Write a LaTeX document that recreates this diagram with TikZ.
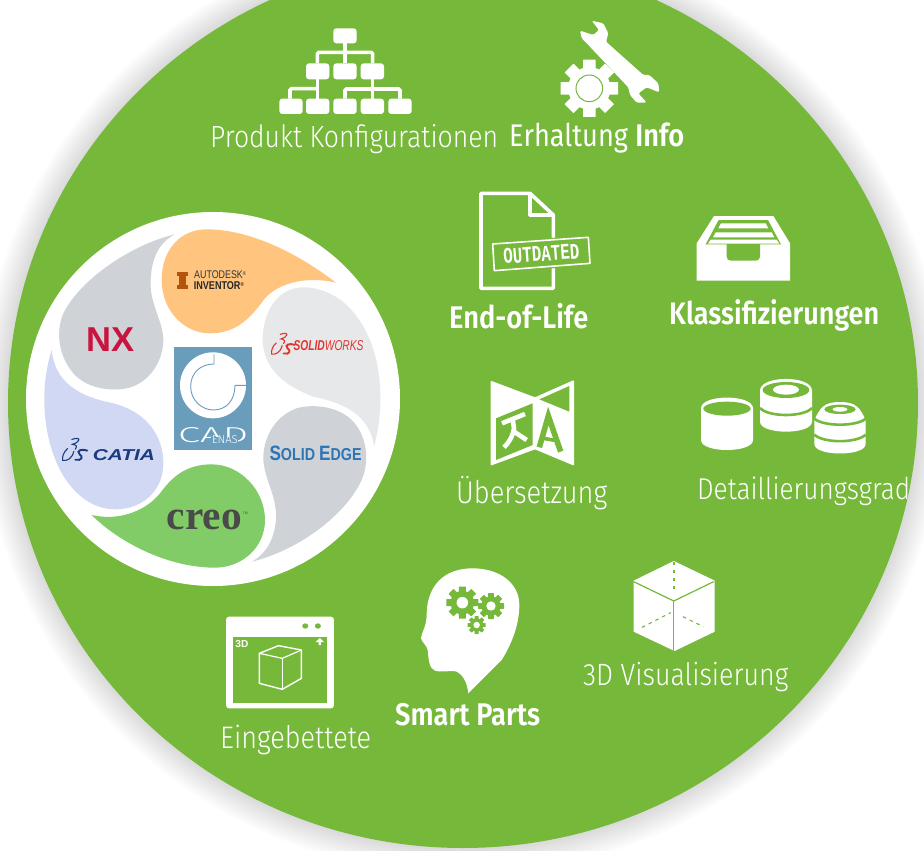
\documentclass[tikz,border=0pt]{standalone}
\usepackage{graphicx}
\usepackage{fontspec}
\setmainfont{Liberation Sans}
\newfontfamily\lightf{Fira Sans Light}
\newfontfamily\regf{Fira Sans}
\newfontfamily\boldf{Fira Sans SemiBold}
\newfontfamily\serf{Liberation Serif}
\newfontfamily\monof{Liberation Mono}
\definecolor{leaf}{HTML}{76B83A}
\definecolor{cadblue}{HTML}{6A9DBC}
\definecolor{petorange}{HTML}{FFC57F}
\definecolor{petlight}{HTML}{E7E8E9}
\definecolor{petgrey}{HTML}{CFD2D6}
\definecolor{petgreen}{HTML}{82CC68}
\definecolor{petlav}{HTML}{D0D8F3}
\definecolor{nxred}{HTML}{C8143F}
\definecolor{swred}{HTML}{E2332E}
\definecolor{catblue}{HTML}{1B3A82}
\definecolor{sedge}{HTML}{2E75B6}
\definecolor{creogrey}{HTML}{4A4A4A}
\definecolor{ibeam}{HTML}{B5540F}
\tikzset{
  zoomat/.style 2 args={shift={(#1,#2)},x=.33333pt,y=-.33333pt},
  zoomfour/.style 2 args={shift={(#1,#2)},x=.3827pt,y=-.33333pt},
  txt/.style={inner sep=0pt,anchor=base west},
  iconline/.style={draw=white,line join=round},
  greenline/.style={draw=leaf,line join=round},
}
\newcommand\lbl[6]{\node[txt,text=white] (#1) at (#2,#3) {\scalebox{1}[1.15]{\resizebox{#4pt}{!}{#5{}#6}}};}
\newcommand\gearicon[5]{% x y r body hole
  \fill[#4] (#1,#2) circle ({0.74*#3});
  \foreach \a in {0,45,...,315}{
    \fill[#4,shift={(#1,#2)},rotate=\a,rounded corners=.4pt] ({0.6*#3},{-0.22*#3}) rectangle ({#3},{0.22*#3});
  }
  \fill[#5] (#1,#2) circle ({0.36*#3});
}
\newcommand\dslogo[4]{% x y scale colour
  \begin{scope}[shift={(#1,#2)},x=#3pt,y=-#3pt,draw=#4,line width=1.1pt,line cap=round]
    \draw (28,4) .. controls (40,0) and (50,0) .. (48,6) .. controls (46,12) and (38,16) .. (30,18) .. controls (42,20) and (44,24) .. (38,32);
    \draw (16,30) .. controls (4,40) and (0,55) .. (2,64) .. controls (14,66) and (28,60) .. (34,38);
    \draw[line width=1.9pt] (72,36) .. controls (56,30) and (40,36) .. (50,46) .. controls (62,54) and (56,66) .. (38,62);
  \end{scope}
}
\begin{document}
\begin{tikzpicture}[x=1pt,y=-1pt]
\useasboundingbox (0,0) rectangle (924,851);
\fill[white] (0,0) rectangle (924,851);
% soft shadow
\begin{scope}
\clip (0,0) rectangle (924,851);
\foreach \i in {1,...,12}{
  \fill[black,opacity=.011] (463,403) ellipse [x radius={455+2.2*\i},y radius={445+2.2*\i}];
}
% big disc
\fill[leaf] (463,403) ellipse [x radius=455,y radius=445];
\end{scope}
% white disc
\fill[white] (213,399) circle (187);
% petals
\begin{scope}[zoomat={20}{200}]
  \fill[petorange] (948,248) .. controls (820,150) and (680,88) .. (560,88) .. controls (480,88) and (425,150) .. (425,240) .. controls (425,330) and (490,400) .. (570,400) .. controls (660,400) and (700,340) .. (735,295) .. controls (770,255) and (850,225) .. (948,248) -- cycle;
  \fill[petlight] (1062,740) .. controls (1100,600) and (1085,420) .. (985,320) .. controls (950,285) and (900,262) .. (850,262) .. controls (770,262) and (728,340) .. (728,420) .. controls (730,510) and (800,560) .. (880,590) .. controls (980,610) and (1050,650) .. (1062,740) -- cycle;
  \fill[petgrey] (695,1085) .. controls (840,1050) and (980,940) .. (1025,840) .. controls (1050,780) and (1040,710) .. (1000,665) .. controls (960,620) and (880,610) .. (830,625) .. controls (760,650) and (728,720) .. (730,780) .. controls (735,840) and (765,880) .. (768,940) .. controls (770,1000) and (745,1060) .. (695,1085) -- cycle;
  \fill[petgreen] (215,945) .. controls (300,1030) and (450,1105) .. (590,1103) .. controls (670,1100) and (735,1040) .. (735,960) .. controls (735,870) and (660,793) .. (575,793) .. controls (490,793) and (450,840) .. (420,880) .. controls (380,930) and (300,965) .. (215,945) -- cycle;
  \fill[petlav] (95,450) .. controls (60,560) and (65,700) .. (120,810) .. controls (160,885) and (220,928) .. (285,928) .. controls (370,928) and (430,870) .. (430,790) .. controls (430,690) and (360,630) .. (280,610) .. controls (180,590) and (105,550) .. (95,450) -- cycle;
  \fill[petgrey] (465,103) .. controls (330,135) and (180,240) .. (130,340) .. controls (105,400) and (118,470) .. (160,520) .. controls (200,565) and (270,575) .. (320,565) .. controls (390,550) and (430,480) .. (430,420) .. controls (430,370) and (395,320) .. (392,260) .. controls (390,190) and (410,130) .. (465,103) -- cycle;
  % central logo
  \fill[cadblue] (461,440) rectangle (697,750);
  \fill[white] (579,556) circle (99);
  \draw[cadblue,line width=.9pt] (582,463) -- (582,492) .. controls (540,492) and (512,520) .. (512,560) .. controls (512,600) and (545,630) .. (580,630) .. controls (620,630) and (645,600) .. (645,556) -- (678,556);
  \node[txt,text=white] (cadword) at (474,727) {\resizebox{70pt}{15pt}{\lightf CAD}};
  \fill[cadblue] (572,712) rectangle (655,733);
  \node[txt,text=white] (enas) at (575,731) {\resizebox{26pt}{!}{\lightf ENAS}};
  % inventor
  \fill[ibeam] (470,215) rectangle (505,227);
  \fill[ibeam] (470,254) rectangle (505,266);
  \fill[ibeam] (478,227) rectangle (497,254);
  \node[txt,text=black!80] (autodesk) at (522,236) {\scalebox{1}[1.25]{\resizebox{52pt}{!}{AUTODESK\raisebox{.5ex}{\tiny\textregistered}}}};
  \node[txt,text=black!85] (inventor) at (521,267) {\scalebox{1}[1.25]{\resizebox{50pt}{!}{\bfseries INVENTOR\raisebox{.5ex}{\tiny\textregistered}}}};
  % NX
  \node[txt,text=nxred] (nx) at (198,453) {\resizebox{48pt}{!}{\bfseries NX}};
  % SolidWorks
  \node[txt,text=swred] (sw) at (820,451) {\resizebox{70pt}{10pt}{\bfseries\itshape SOLID\mdseries WORKS}};
  % Solid Edge
  \node[txt,text=sedge] (se) at (748,781) {\resizebox{92pt}{14.5pt}{\bfseries\fontsize{12}{12}\selectfont S\fontsize{10}{12}\selectfont OLID \fontsize{12}{12}\selectfont E\fontsize{10}{12}\selectfont DGE}};
  % Creo
  \node[txt,text=creogrey] (creo) at (440,988) {\resizebox{75pt}{!}{\serf\bfseries creo}};
  \node[txt,text=creogrey] (creotm) at (668,944) {\resizebox{5pt}{!}{\tiny TM}};
  % CATIA
  \node[txt,text=catblue] (catia) at (218,781) {\resizebox{62pt}{11pt}{\bfseries\itshape CATIA}};
\end{scope}
\dslogo{271}{333}{.33}{swred}
\dslogo{62}{438}{.35}{catblue}
% org chart
\begin{scope}[zoomat={200}{0}]
  \foreach \xa/\ya/\xb/\yb in {400/85/470/130,318/190/388/238,400/190/470/238,482/190/552/238,238/296/308/342,318/296/388/342,400/296/470/342,482/296/552/342,565/296/635/342}{
    \fill[white,rounded corners=3pt] (\xa,\ya) rectangle (\xb,\yb);
  }
  \draw[white,line width=3.6pt,rounded corners=1.5pt] (352,190) -- (352,157) -- (518,157) -- (518,190);
  \draw[white,line width=3.6pt] (435,130) -- (435,190);
  \draw[white,line width=3.6pt,rounded corners=1.5pt] (270,296) -- (270,266) -- (352,266);
  \draw[white,line width=3.6pt] (352,238) -- (352,296);
  \draw[white,line width=3.6pt,rounded corners=1.5pt] (435,296) -- (435,267) -- (600,267) -- (600,296);
  \draw[white,line width=3.6pt] (518,238) -- (518,296);
  % wrench
  \fill[white,rounded corners=1.5pt] (1175,62) -- (1210,70) -- (1225,100) -- (1218,125) -- (1330,225) -- (1348,225) -- (1375,250) -- (1378,277) -- (1340,262) -- (1315,280) -- (1340,308) -- (1310,308) -- (1290,285) -- (1285,262) -- (1165,135) -- (1145,115) -- (1140,92) -- (1180,105) -- (1197,90) -- cycle;
  \gearicon{1168}{265}{86}{white}{white}
  \draw[leaf,line width=1pt] (1168,265) circle (40);
\end{scope}
% doc + stamp, tray
\begin{scope}[zoomat={440}{180}]
  \draw[iconline,line width=3.6pt] (123,40) -- (270,40) -- (340,105) -- (340,325) -- (123,325) -- cycle;
  \draw[iconline,line width=3.2pt] (270,40) -- (270,105) -- (340,105);
  \fill[leaf] (150,186) -- (452,166) -- (458,256) -- (155,278) -- cycle;
  \draw[iconline,line width=1.6pt] (158,192) -- (445,172) -- (450,250) -- (163,272) -- cycle;
  \node[inner sep=0pt,text=white,rotate=4] (stamp) at (304,221) {\resizebox{76pt}{15pt}{\monof\bfseries OUTDATED}};
  % tray
  \fill[white] (770,190) -- (822,108) -- (1000,108) -- (1050,190) -- (1050,302) -- (770,302) -- cycle;
  \fill[leaf] (797,193) -- (836,120) -- (984,120) -- (1023,193) -- cycle;
  \fill[white] (843,130) -- (977,130) -- (985,145) -- (835,145) -- cycle;
  \fill[white] (827,157) -- (995,157) -- (1003,172) -- (819,172) -- cycle;
  \fill[leaf,rounded corners=4pt] (860,175) -- (860,242) -- (960,242) -- (960,175) -- cycle;
  \fill[white] (812,179) -- (1010,179) -- (1018,191) -- (804,191) -- cycle;
\end{scope}
% translate
\begin{scope}[zoomat={480}{370}]
  \fill[white,rounded corners=1pt] (32,32) -- (165,82) -- (282,30) -- (282,287) -- (165,238) -- (32,287) -- cycle;
  \fill[leaf] (48,145) -- (158,100) -- (158,225) -- (48,270) -- cycle;
  \fill[leaf] (268,48) -- (178,88) -- (268,125) -- cycle;
  \draw[white,line width=4.6pt] (66,160) -- (135,132);
  \draw[white,line width=4.6pt] (98,148) -- (102,175) .. controls (98,200) and (85,220) .. (72,232);
  \draw[white,line width=4.6pt] (102,185) -- (140,210);
  \draw[leaf,line width=5.6pt,line join=miter] (178,232) -- (205,138) -- (242,245);
  \draw[leaf,line width=3.6pt] (190,205) -- (230,212);
\end{scope}
% discs
\begin{scope}[zoomat={695}{370}]
  \fill[white] (18,115) -- (18,210) .. controls (18,250) and (174,250) .. (174,210) -- (174,115) .. controls (174,72) and (18,72) .. (18,115) -- cycle;
  \fill[leaf] (96,116) ellipse [x radius=71,y radius=21];
  % second
  \fill[white] (195,62) -- (195,155) .. controls (195,195) and (351,195) .. (351,155) -- (351,62) .. controls (351,15) and (195,15) .. (195,62) -- cycle;
  \fill[leaf] (273,60) ellipse [x radius=70,y radius=24];
  \fill[white] (273,59) ellipse [x radius=39,y radius=15];
  \draw[leaf,line width=2.6pt] (195,114) .. controls (220,142) and (326,142) .. (351,114);
  % third
  \fill[white] (358,150) .. controls (375,115) and (385,96) .. (435,96) .. controls (485,96) and (495,115) .. (512,150) -- (512,222) .. controls (512,260) and (358,260) .. (358,222) -- cycle;
  \fill[leaf] (435,118) ellipse [x radius=47,y radius=14];
  \fill[white] (435,118) ellipse [x radius=22,y radius=7];
  \draw[leaf,line width=2.6pt] (358,146) .. controls (385,170) and (485,170) .. (512,146);
  \draw[leaf,line width=2.6pt] (358,194) .. controls (385,220) and (485,220) .. (512,194);
\end{scope}
% head
\begin{scope}[zoomat={410}{560}]
  \fill[white] (175,400) -- (275,300) .. controls (300,260) and (328,200) .. (328,135) .. controls (328,70) and (270,26) .. (190,25) .. controls (100,24) and (50,80) .. (50,165) .. controls (50,200) and (33,220) .. (33,235) .. controls (38,250) and (50,255) .. (53,270) .. controls (56,295) and (56,325) .. (75,332) .. controls (95,338) and (125,330) .. (140,335) .. controls (160,345) and (172,370) .. (175,400) -- cycle;
  \gearicon{157}{128}{48}{leaf}{white}
  \gearicon{243}{138}{39}{leaf}{white}
  \gearicon{200}{195}{27}{leaf}{white}
\end{scope}
% browser and 3D cube
\begin{scope}[zoomfour={200}{550}]
  \fill[white,rounded corners=3pt] (68,200) rectangle (350,475);
  \fill[leaf] (85,262) rectangle (333,458);
  \fill[leaf] (275,228) ellipse [x radius=8,y radius=8];
  \fill[leaf] (308,228) ellipse [x radius=8,y radius=8];
  \node[txt,text=white] (threed) at (92,293) {\resizebox{13pt}{!}{\bfseries 3D}};
  \fill[white] (313,264) -- (324,276) -- (316,276) -- (316,285) -- (310,285) -- (310,276) -- (302,276) -- cycle;
  \draw[iconline,line width=1.4pt] (155,310) -- (205,287) -- (265,300) -- (265,385) -- (215,418) -- (155,400) -- cycle;
  \draw[iconline,line width=1.2pt] (155,310) -- (215,325) -- (265,300);
  \draw[iconline,line width=1.2pt] (215,325) -- (215,418);
  % cube
  \fill[white] (1238,33) -- (1345,92) -- (1345,245) -- (1240,303) -- (1133,245) -- (1133,92) -- cycle;
  \draw[greenline,line width=1.2pt] (1133,95) -- (1238,153) -- (1342,95);
  \draw[greenline,line width=1.2pt] (1238,153) -- (1238,303);
  \draw[leaf,line width=1.5pt,dash pattern=on 3pt off 5pt] (1238,36) -- (1238,130);
  \draw[leaf,line width=1.1pt,dash pattern=on 3.5pt off 4pt] (1155,232) -- (1230,188);
  \draw[leaf,line width=1.1pt,dash pattern=on 3.5pt off 4pt] (1262,200) -- (1315,230);
\end{scope}
% labels
\lbl{konfig}{210}{147}{288}{\lightf}{Produkt Konfigurationen}
\lbl{erhalt}{509}{146.5}{175}{\regf}{Erhaltung {\boldf Info}}
\lbl{eol}{449}{328}{139}{\boldf}{End-of-Life}
\lbl{klass}{669}{324.5}{210}{\boldf}{Klassifizierungen}
\lbl{uebers}{456}{503}{151}{\lightf}{Übersetzung}
\lbl{detail}{697}{499.5}{213}{\lightf}{Detaillierungsgrad}
\lbl{visual}{583}{685}{205}{\lightf}{3D Visualisierung}
\lbl{smart}{395}{725}{145}{\boldf}{Smart Parts}
\lbl{einge}{220}{748}{151}{\lightf}{Eingebettete}
\end{tikzpicture}
\end{document}
